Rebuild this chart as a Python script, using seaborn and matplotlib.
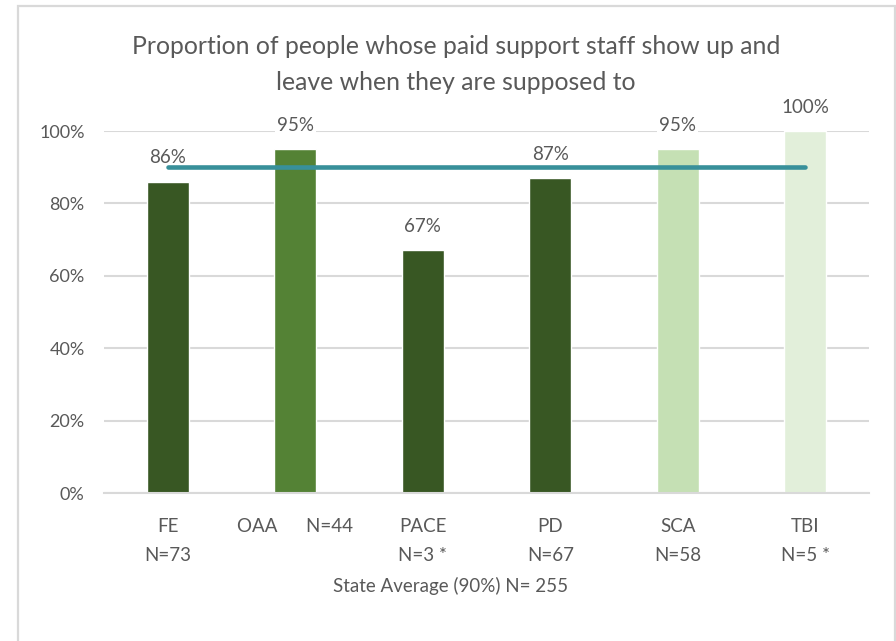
import matplotlib
matplotlib.use("Agg")
import matplotlib.pyplot as plt
from matplotlib.patches import Rectangle
import seaborn as sns
import pandas as pd

# Program data
programs = ["FE", "OAA", "PACE", "PD", "SCA", "TBI"]
tick_labels = ["FE\nN=73", "OAA      N=44", "PACE\nN=3 *", "PD\nN=67", "SCA\nN=58", "TBI\nN=5 *"]
percent_yes = [86, 95, 67, 87, 95, 100]
bar_colors = ["#385723", "#548235", "#385723", "#385723", "#C5E0B4", "#E2EFDA"]
state_average = 90
title = "Proportion of people whose paid support staff show up and\nleave when they are supposed to"
x_title = "State Average (90%) N= 255"

sns.set_theme(style="white")
plt.rcParams["font.family"] = ["Lato", "DejaVu Sans"]
text_gray = "#595959"
grid_gray = "#D9D9D9"

df = pd.DataFrame({"program": programs, "value": [v / 100 for v in percent_yes]})

fig = plt.figure(figsize=(8.96, 6.41), dpi=100)
ax = fig.add_axes([104 / 896, 1 - 493 / 641, (869 - 104) / 896, (493 - 131) / 641])

sns.barplot(data=df, x="program", y="value", hue="program",
            palette=dict(zip(programs, bar_colors)), order=programs,
            width=0.33, legend=False, ax=ax, saturation=1)

# State average line across the categories
ax.plot([0, len(programs) - 1], [state_average / 100] * 2, color="#38909A",
        lw=3.3, solid_capstyle="round", zorder=6)

# Value labels above each bar
for i, v in enumerate(percent_yes):
    ax.annotate(f"{v}%", (i, v / 100), xytext=(0, 11), textcoords="offset points",
                ha="center", va="bottom", fontsize=13.5, color=text_gray,
                bbox=dict(facecolor="white", edgecolor="none", pad=1.5),
                annotation_clip=False, zorder=5)

ax.set_ylim(0, 1.0)
ax.set_xlim(-0.5, len(programs) - 0.5)
ax.set_yticks([0, 0.2, 0.4, 0.6, 0.8, 1.0])
ax.set_yticklabels([f"{int(t * 100)}%" for t in ax.get_yticks()])
ax.yaxis.grid(True, color=grid_gray, lw=1.5)
ax.set_axisbelow(True)
for side in ["left", "right", "top"]:
    ax.spines[side].set_visible(False)
ax.spines["bottom"].set_color(grid_gray)
ax.spines["bottom"].set_linewidth(1.5)

ax.set_xticks(range(len(programs)))
ax.set_xticklabels(tick_labels, linespacing=1.85)
ax.tick_params(axis="both", length=0, labelsize=13.5, labelcolor=text_gray)
ax.tick_params(axis="x", pad=18)
ax.tick_params(axis="y", labelsize=13, pad=14)
ax.set_ylabel("")
ax.set_xlabel(x_title, fontsize=13.5, color=text_gray, va="center")
ax.xaxis.set_label_coords((451 - 104) / 765, (493 - 586) / 362)

fig.text(456 / 896, 1 - 90 / 641, title, ha="center", va="baseline",
         fontsize=17.8, color=text_gray, linespacing=1.7)

# Chart frame
fig.patches.append(Rectangle((18 / 896, -0.02), (894.5 - 18) / 896, 1.02 - 6 / 641,
                             transform=fig.transFigure, fill=False,
                             edgecolor=grid_gray, lw=1.6, zorder=0))

fig.savefig("out.png", dpi=100)
